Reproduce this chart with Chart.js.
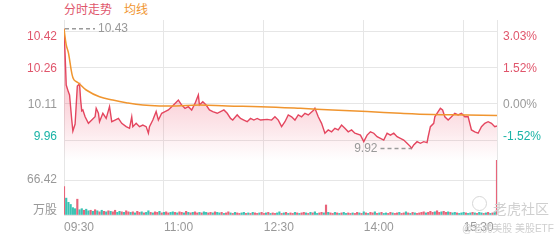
<!DOCTYPE html>
<html>
<head>
<meta charset="utf-8">
<script src="https://cdn.jsdelivr.net/npm/chart.js@4.4.0/dist/chart.umd.min.js"></script>
<style>
  body { margin: 0; background: #fff; width: 560px; height: 240px; overflow: hidden; position: relative;
         font-family: "Liberation Sans", Arial, "Noto Sans CJK SC", sans-serif; }
  #price { position: absolute; left: 0; top: 0; }
  #volume { position: absolute; left: 0; top: 160px; }
  .legend { position: absolute; top: 3px; font-size: 12px; line-height: 14px; }
  .mark { position: absolute; color: #cfcfcf; white-space: nowrap; }
  .logo { position: absolute; left: 472px; top: 196px; width: 13px; height: 13px; border: 1.5px solid #d6d6d6; border-radius: 50%; }
</style>
</head>
<body>
<span class="legend" style="left:64px;color:#e0566c">分时走势</span>
<span class="legend" style="left:124px;color:#f0952f">均线</span>
<canvas id="price" width="560" height="160"></canvas>
<canvas id="volume" width="560" height="80"></canvas>
<div class="logo"></div>
<span class="mark" style="left:493px;top:198px;font-size:14px">老虎社区</span>
<span class="mark" style="left:462px;top:220px;font-size:10px">@老虎美股 美股ETF</span>
<script>
// minutes after 09:30
const priceMinutes = [0, 1, 2, 4, 5, 7, 8, 10, 12, 14, 15, 16, 17, 19, 22, 25, 28, 29, 31, 32,
  35, 38, 41, 43, 46, 49, 52, 56, 59, 61, 62, 65, 68, 71, 74, 76, 77, 80, 83, 85,
  88, 91, 94, 97, 100, 103, 106, 109, 112, 115, 118, 121, 122, 125, 128, 131, 134, 138, 141, 144,
  147, 150, 152, 156, 159, 162, 165, 168, 171, 174, 177, 183, 187, 190, 193, 196, 199, 202, 205, 208,
  211, 214, 217, 220, 225, 226, 229, 232, 235, 238, 241, 244, 247, 250, 253, 256, 259, 262, 267, 270,
  273, 276, 279, 282, 285, 288, 291, 294, 297, 300, 303, 306, 309, 312, 313, 315, 318, 321, 324, 327,
  328, 330, 333, 334, 337, 339, 341, 343, 346, 349, 352, 355, 358, 361, 364, 367, 370, 373, 376, 379,
  382, 385, 388, 390];
const prices = [10.430, 10.318, 10.190, 10.160, 10.148, 10.041, 9.994, 10.024, 10.186, 10.195, 10.126, 10.080, 10.084, 10.055, 10.027, 10.041, 10.055, 10.091, 10.070, 10.034,
  10.070, 10.048, 10.098, 10.034, 10.041, 10.048, 10.027, 10.013, 10.006, 10.055, 10.013, 10.027, 10.013, 10.020, 10.013, 9.985, 10.013, 10.041, 10.077, 10.041,
  10.070, 10.077, 10.084, 10.098, 10.112, 10.126, 10.105, 10.091, 10.098, 10.084, 10.112, 10.148, 10.105, 10.119, 10.105, 10.084, 10.077, 10.070, 10.077, 10.084,
  10.070, 10.048, 10.041, 10.063, 10.048, 10.041, 10.034, 10.048, 10.041, 10.048, 10.041, 10.044, 10.041, 10.055, 10.041, 10.013, 10.034, 10.063, 10.055, 10.041,
  10.063, 10.055, 10.070, 10.063, 10.084, 10.091, 10.055, 10.027, 9.985, 9.999, 9.991, 10.006, 9.999, 10.020, 10.006, 9.991, 9.999, 9.985, 9.977, 9.949,
  9.977, 9.991, 9.985, 9.970, 9.963, 9.956, 9.985, 9.977, 9.985, 9.970, 9.963, 9.956, 9.942, 9.928, 9.920, 9.935, 9.949, 9.942, 9.949, 9.945,
  9.970, 10.013, 10.027, 10.055, 10.077, 10.091, 10.084, 10.055, 10.041, 10.055, 10.070, 10.063, 10.070, 10.055, 10.055, 9.999, 9.991, 9.985, 10.013, 10.027,
  10.034, 10.027, 10.013, 10.016];
const avgMinutes = [0, 2, 4, 7, 9, 13, 20, 32, 44, 56, 71, 86, 101, 122, 147, 177, 213, 242, 273, 303, 332, 363, 390];
const avgPrices = [10.430, 10.361, 10.327, 10.241, 10.212, 10.199, 10.169, 10.140, 10.126, 10.115, 10.105, 10.101, 10.101, 10.105, 10.101, 10.098, 10.091, 10.084, 10.077, 10.070, 10.065, 10.063, 10.060];

// volume (万股), one bar every 2 minutes from 09:30; 1 = up (red), 0 = down (teal)
const volStep = 2;
const volumes = [54, 32, 24, 20, 14, 12, 30, 10, 12, 9, 11, 8, 9, 7, 10, 8, 6, 9, 7, 6, 8, 7, 6, 9, 5, 7, 6, 5, 8, 6,
  5, 6, 4, 7, 5, 6, 4, 5, 8, 5, 4, 6, 5, 7, 4, 5, 6, 4, 5, 6,
  5, 4, 6, 5, 4, 7, 5, 4, 5, 6, 4, 5, 4, 6, 5, 4, 5, 4, 6, 5,
  4, 5, 3, 4, 6, 4, 3, 5, 4, 3, 4, 5, 3, 4, 3, 5, 4, 3, 4, 5,
  3, 4, 5, 3, 4, 3, 4, 6, 3, 4, 5, 3, 4, 3, 5, 4, 3, 4, 5, 4,
  3, 5, 4, 6, 3, 4, 5, 4, 19, 5, 4, 3, 5, 4, 3, 4, 5, 3, 4, 3,
  4, 3, 5, 4, 3, 6, 4, 3, 5, 4, 6, 3, 4, 5, 3, 4, 3, 5, 4, 3,
  4, 5, 3, 4, 6, 4, 3, 5, 4, 3, 4, 5, 6, 4, 5, 7, 5, 6, 8, 5,
  6, 7, 5, 6, 5, 4, 5, 4, 3, 4, 5, 4, 3, 4, 5, 4, 3, 5, 4, 3,
  4, 5, 3, 4, 5, 110];
const volUp = [1, 0, 0, 0, 0, 0, 1, 0, 0, 1, 0, 0, 1, 0, 1, 0, 1, 0, 1, 0, 1, 0, 1, 1, 0, 0, 1, 0, 1, 1,
  0, 1, 0, 1, 1, 0, 1, 0, 0, 1, 0, 1, 1, 0, 1, 0, 1, 1, 0, 0,
  1, 0, 1, 1, 0, 1, 0, 1, 0, 1, 1, 0, 1, 0, 0, 1, 1, 0, 1, 0,
  0, 1, 0, 1, 1, 0, 1, 0, 1, 1, 0, 0, 1, 0, 1, 0, 1, 1, 0, 1,
  1, 0, 1, 0, 1, 1, 0, 0, 1, 0, 1, 0, 1, 1, 0, 1, 0, 1, 1, 0,
  1, 0, 1, 0, 0, 1, 1, 0, 1, 0, 1, 1, 0, 1, 0, 1, 0, 0, 1, 1,
  0, 1, 1, 0, 1, 0, 1, 0, 1, 1, 0, 1, 0, 1, 0, 0, 1, 1, 0, 1,
  1, 0, 1, 1, 0, 1, 0, 1, 0, 1, 1, 1, 1, 0, 1, 1, 1, 0, 1, 1,
  0, 1, 1, 0, 1, 0, 0, 1, 0, 0, 0, 1, 0, 0, 1, 0, 1, 0, 0, 1,
  0, 1, 0, 1, 0, 1];

const prevClose = 10.11;
const priceTicks = [9.956, 10.11, 10.264, 10.416];
const timeTicks = [0, 90, 180, 270, 360, 390];
const timeLabels = ['09:30', '11:00', '12:30', '14:00', '15:30', ''];
const volTick = 66.42;
const volUnit = '万股';

const RED = '#e0566c', TEAL = '#1ab3a6', GREY = '#999999', GRID = '#e6e6e6';
const FONT = '12px "Liberation Sans", Arial, "Noto Sans CJK SC", sans-serif';

function tickColor(v) {
  if (Math.abs(v - prevClose) < 0.001) return GREY;
  return v > prevClose ? RED : TEAL;
}

const priceLabels = {
  id: 'priceLabels',
  afterDraw(chart) {
    const { ctx, chartArea: a, scales: { y, x } } = chart;
    ctx.save();
    ctx.font = FONT;
    ctx.textBaseline = 'middle';
    priceTicks.forEach((v, i) => {
      let py = y.getPixelForValue(v);
      if (i === priceTicks.length - 1) py += 5;
      else if (i === 0) py -= 3;
      else py += 1;
      ctx.fillStyle = tickColor(v);
      ctx.textAlign = 'right';
      ctx.fillText(v.toFixed(2), a.left - 7, py);
      const pct = ((v / prevClose - 1) * 100).toFixed(2) + '%';
      ctx.textAlign = 'left';
      ctx.fillText(pct, a.right + 6, py);
    });
    // high and low markers
    let hi = 0, lo = 0;
    prices.forEach((p, i) => { if (p > prices[hi]) hi = i; if (p < prices[lo]) lo = i; });
    const hx = x.getPixelForValue(priceMinutes[hi]), hy = y.getPixelForValue(prices[hi]);
    const lx = x.getPixelForValue(priceMinutes[lo]), ly = y.getPixelForValue(prices[lo]);
    ctx.strokeStyle = '#9a9a9a';
    ctx.lineWidth = 1.5;
    ctx.setLineDash([4, 3]);
    ctx.beginPath();
    ctx.moveTo(hx + 1, hy); ctx.lineTo(hx + 31, hy);
    ctx.moveTo(lx - 31, ly); ctx.lineTo(lx, ly);
    ctx.stroke();
    ctx.fillStyle = GREY;
    ctx.textAlign = 'left';
    ctx.fillText(prices[hi].toFixed(2), hx + 34, hy);
    ctx.textAlign = 'right';
    ctx.fillText(prices[lo].toFixed(2), lx - 34, ly);
    ctx.restore();
  }
};

const volLabels = {
  id: 'volLabels',
  afterDraw(chart) {
    const { ctx, chartArea: a, scales: { y } } = chart;
    ctx.save();
    ctx.font = FONT;
    ctx.textBaseline = 'middle';
    ctx.textAlign = 'right';
    ctx.fillStyle = GREY;
    ctx.fillText(volTick.toFixed(2), a.left - 7, y.getPixelForValue(volTick));
    ctx.fillText(volUnit, a.left - 7, a.bottom - 4);
    ctx.restore();
  }
};

const yMin = 9.871, yMax = 10.467;
const gridColor = () => GRID;

new Chart(document.getElementById('price'), {
  type: 'line',
  data: {
    datasets: [{
      label: '均线',
      data: avgMinutes.map((m, i) => ({ x: m, y: avgPrices[i] })),
      borderColor: '#f0952f',
      borderWidth: 1.5,
      pointRadius: 0,
      tension: 0.4,
      fill: false
    }, {
      label: '分时走势',
      data: priceMinutes.map((m, i) => ({ x: m, y: prices[i] })),
      borderColor: '#e4465f',
      borderWidth: 1.4,
      pointRadius: 0,
      tension: 0,
      fill: 'start',
      backgroundColor: (c) => {
        const a = c.chart.chartArea;
        if (!a) return 'rgba(0,0,0,0)';
        const g = c.chart.ctx.createLinearGradient(0, a.top, 0, a.bottom);
        g.addColorStop(0, 'rgba(236,70,98,0.45)');
        g.addColorStop(0.65, 'rgba(236,70,98,0.2)');
        g.addColorStop(1, 'rgba(236,70,98,0)');
        return g;
      }
    }]
  },
  options: {
    responsive: false,
    animation: false,
    layout: { padding: { top: 20, bottom: 0, left: 0, right: 0 } },
    plugins: { legend: { display: false }, tooltip: { enabled: false } },
    scales: {
      x: {
        type: 'linear', min: 0, max: 390,
        afterBuildTicks: (s) => { s.ticks = timeTicks.map(v => ({ value: v })); },
        afterFit: (s) => { s.height = 0; },
        ticks: { display: false },
        grid: { color: gridColor, drawTicks: false },
        border: { display: false }
      },
      y: {
        position: 'left', min: yMin, max: yMax,
        afterBuildTicks: (s) => { s.ticks = priceTicks.map(v => ({ value: v })); },
        afterFit: (s) => { s.width = 64; },
        ticks: { display: false },
        grid: { color: gridColor, drawTicks: false },
        border: { display: false }
      },
      yr: {
        position: 'right', min: yMin, max: yMax,
        afterFit: (s) => { s.width = 63; },
        ticks: { display: false },
        grid: { display: false },
        border: { display: false }
      }
    }
  },
  plugins: [priceLabels]
});

new Chart(document.getElementById('volume'), {
  type: 'bar',
  data: {
    datasets: [{
      data: volumes.map((v, i) => ({ x: i * volStep, y: v })),
      backgroundColor: volUp.map(u => u ? '#e8647a' : '#3cc3b4'),
      barThickness: 1.5,
      grouped: false
    }]
  },
  options: {
    responsive: false,
    animation: false,
    layout: { padding: { top: 0, bottom: 0, left: 0, right: 0 } },
    plugins: { legend: { display: false }, tooltip: { enabled: false } },
    scales: {
      x: {
        type: 'linear', min: 0, max: 390, offset: false,
        afterBuildTicks: (s) => { s.ticks = timeTicks.map(v => ({ value: v })); },
        afterFit: (s) => { s.height = 25; },
        ticks: {
          align: 'start', padding: 5, color: GREY, maxRotation: 0, autoSkip: false,
          font: { size: 12, family: '"Liberation Sans", Arial, sans-serif' },
          callback: (v) => timeLabels[timeTicks.indexOf(v)]
        },
        grid: { color: gridColor, drawTicks: false, offset: false },
        border: { display: false }
      },
      y: {
        position: 'left', min: 0, max: 104.4,
        afterBuildTicks: (s) => { s.ticks = [0, volTick].map(v => ({ value: v })); },
        afterFit: (s) => { s.width = 64; },
        ticks: { display: false },
        grid: { color: gridColor, drawTicks: false },
        border: { display: false }
      },
      yr: {
        position: 'right', min: 0, max: 104.4,
        afterFit: (s) => { s.width = 63; },
        ticks: { display: false },
        grid: { display: false },
        border: { display: false }
      }
    }
  },
  plugins: [volLabels]
});
</script>
</body>
</html>
